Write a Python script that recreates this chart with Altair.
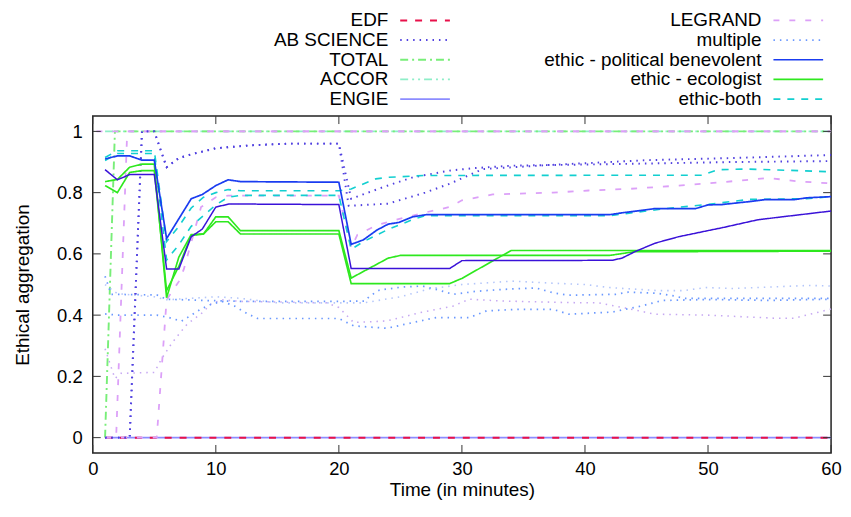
import altair as alt
import pandas as pd

FONT = "Liberation Sans"

# ---------------- data ----------------
x_ticks = [0, 10, 20, 30, 40, 50, 60]
y_ticks = [0, 0.2, 0.4, 0.6, 0.8, 1]

legend_names = ["EDF", "AB SCIENCE", "TOTAL", "ACCOR", "ENGIE",
                "LEGRAND", "multiple", "ethic - political benevolent",
                "ethic - ecologist", "ethic-both"]

# EDF
t_edf = [1, 60]
v_edf = [0, 0]
# ENGIE
t_engie = [1, 60]
v_engie = [0, 0]
# TOTAL
t_total = [1, 1.8, 60]
v_total = [0, 1, 1]
# ACCOR
t_accor = [1, 60]
v_accor = [1, 1]
# AB SCIENCE (two runs)
t_ab_a = [1, 3, 4, 5, 6, 7, 8, 10, 13, 16, 20, 21, 23.6, 26, 29, 31, 34, 37, 45, 52, 60]
v_ab_a = [0, 0, 1, 1, 0.883, 0.913, 0.925, 0.945, 0.955, 0.96, 0.96, 0.78, 0.818, 0.85,
          0.872, 0.88, 0.888, 0.89, 0.906, 0.913, 0.923]
t_ab_b = [1, 3, 4, 5, 6, 7, 8, 10, 13, 16, 20, 20.8, 24, 27, 29, 31.7, 37, 45, 52, 60]
v_ab_b = [0, 0, 1, 1, 0.883, 0.913, 0.925, 0.945, 0.955, 0.96, 0.96, 0.757, 0.764, 0.80,
          0.829, 0.877, 0.89, 0.895, 0.90, 0.903]
# LEGRAND (three runs)
t_leg_a = [0.3, 60]
v_leg_a = [1, 1]
t_leg_b = [1, 1.9, 2.8, 60]
v_leg_b = [0, 0, 1, 1]
t_leg_c = [1, 5.2, 6.0, 7.0, 7.4, 8.8, 10, 11, 20, 21, 21.5, 23.1, 25, 27, 29, 30, 32.5,
           37.4, 40.3, 43.5, 47.6, 51.1, 54.9, 57.3, 60]
v_leg_c = [0, 0, 0.45, 0.51, 0.55, 0.753, 0.785, 0.79, 0.79, 0.62, 0.662, 0.694, 0.715,
           0.735, 0.753, 0.775, 0.794, 0.80, 0.807, 0.812, 0.823, 0.834, 0.848, 0.837, 0.83]
# multiple (four runs)
t_m1 = [1, 1.5, 5.2, 6, 9, 12, 16, 20, 22.1, 22.5, 23.3, 25.2, 26.8, 27.9, 29.3, 31.2, 33.3,
        36, 37.4, 38.7, 42.5, 43.5, 46, 47.3, 48.1, 60]
v_m1 = [0.527, 0.468, 0.466, 0.452, 0.448, 0.445, 0.445, 0.445, 0.446, 0.462, 0.482, 0.492,
        0.495, 0.484, 0.468, 0.478, 0.484, 0.489, 0.473, 0.465, 0.468, 0.475, 0.471, 0.462,
        0.455, 0.455]
t_m2 = [1, 2, 5.2, 6.2, 7.2, 8, 8.8, 9.6, 10.5, 11.5, 12.6, 13.4, 20, 21.2, 23.9, 26.6, 27.9,
        30.6, 32, 34.6, 37.4, 38.7, 42.2, 44.6, 46.3, 50, 55, 60]
v_m2 = [0.404, 0.40, 0.40, 0.392, 0.38, 0.40, 0.42, 0.435, 0.445, 0.43, 0.404, 0.389, 0.389,
        0.365, 0.357, 0.381, 0.392, 0.392, 0.414, 0.419, 0.419, 0.403, 0.41, 0.43, 0.448,
        0.451, 0.448, 0.452]
t_m3 = [1, 2, 5, 6, 8, 10, 12, 15, 20, 22, 25, 27.4, 30, 34.1, 37, 40, 42, 46, 48, 49.8, 52,
        58.2, 60]
v_m3 = [0.50, 0.47, 0.46, 0.45, 0.455, 0.46, 0.455, 0.44, 0.44, 0.44, 0.46, 0.486, 0.50,
        0.511, 0.505, 0.50, 0.49, 0.48, 0.48, 0.49, 0.487, 0.497, 0.495]
t_m4 = [1, 1.8, 2.3, 5, 5.6, 6.4, 7.1, 7.7, 8.8, 9.6, 10.5, 12, 19, 20, 21.2, 23.9, 26.6,
        29.3, 30.6, 33.3, 38.7, 41.1, 43.3, 45.7, 50, 55.4, 57, 58.3, 60]
v_m4 = [0.29, 0.193, 0.21, 0.213, 0.258, 0.307, 0.343, 0.372, 0.404, 0.436, 0.45, 0.445,
        0.44, 0.425, 0.376, 0.381, 0.408, 0.43, 0.452, 0.446, 0.441, 0.44, 0.423, 0.403,
        0.40, 0.39, 0.39, 0.403, 0.42]
# ethic - political benevolent (two runs)
t_pol_a = [1, 2, 3, 4, 5, 6, 8, 8.9, 10, 11, 12, 20, 21, 22, 23.1, 24, 24.9, 26, 27.1, 42,
           43, 44.6, 45.7, 49, 50, 51.1, 53.2, 54.6, 57, 58, 60]
v_pol_a = [0.91, 0.92, 0.92, 0.906, 0.906, 0.65, 0.78, 0.794, 0.823, 0.842, 0.836, 0.834,
           0.631, 0.646, 0.678, 0.697, 0.703, 0.721, 0.728, 0.728, 0.734, 0.742, 0.748, 0.748,
           0.76, 0.761, 0.77, 0.777, 0.777, 0.783, 0.787]
t_pol_b = [1, 2, 3, 5, 6, 7, 8, 8.9, 10, 11.1, 20, 21, 29, 30, 42.2, 43, 44.1, 45.7, 47.6, 50,
           51.1, 54, 56, 57.3, 60]
v_pol_b = [0.875, 0.842, 0.859, 0.859, 0.551, 0.551, 0.656, 0.681, 0.753, 0.763, 0.761, 0.552,
           0.552, 0.578, 0.579, 0.586, 0.608, 0.635, 0.656, 0.676, 0.685, 0.711, 0.721, 0.727,
           0.74]
# ethic - ecologist (two runs)
t_eco_a = [1, 2, 3, 4, 5, 6, 7, 8, 9, 10, 11, 12, 20, 21, 24, 25, 42, 44, 60]
v_eco_a = [0.836, 0.843, 0.883, 0.893, 0.893, 0.457, 0.59, 0.663, 0.665, 0.721, 0.721, 0.676,
           0.676, 0.521, 0.586, 0.595, 0.595, 0.607, 0.609]
t_eco_b = [1, 2, 3, 4, 5, 6, 7, 8, 9, 10, 11, 12, 20, 21, 29, 30, 34, 60]
v_eco_b = [0.823, 0.80, 0.866, 0.872, 0.872, 0.48, 0.56, 0.66, 0.665, 0.705, 0.705, 0.665,
           0.665, 0.503, 0.503, 0.52, 0.611, 0.611]
# ethic-both (two runs)
t_both_a = [1, 2, 5, 6, 7, 8, 9, 10, 11, 12, 20, 21, 23, 24, 27, 49.5, 50.8, 53.2, 55.7, 60]
v_both_a = [0.915, 0.937, 0.937, 0.64, 0.69, 0.75, 0.785, 0.80, 0.81, 0.806, 0.806, 0.812,
            0.845, 0.85, 0.856, 0.857, 0.875, 0.877, 0.874, 0.868]
t_both_b = [1, 2, 5, 6, 7, 8, 9, 10, 11, 12, 20, 21, 22, 24, 26, 27, 42, 43, 47, 49.6, 53.4,
            58, 60]
v_both_b = [0.905, 0.928, 0.928, 0.58, 0.63, 0.69, 0.725, 0.76, 0.785, 0.791, 0.791, 0.615,
            0.64, 0.68, 0.712, 0.725, 0.725, 0.73, 0.75, 0.76, 0.778, 0.78, 0.787]

# (style key, run id, times, values) in drawing order
runs = [
    ("ENGIE", "engie", t_engie, v_engie),
    ("EDF", "edf", t_edf, v_edf),
    ("ACCOR", "accor", t_accor, v_accor),
    ("TOTAL", "total", t_total, v_total),
    ("LEGRAND", "leg_a", t_leg_a, v_leg_a),
    ("LEGRAND", "leg_b", t_leg_b, v_leg_b),
    ("LEGRAND", "leg_c", t_leg_c, v_leg_c),
    ("multiple ·3", "m4", t_m4, v_m4),
    ("multiple ·2", "m3", t_m3, v_m3),
    ("multiple", "m1", t_m1, v_m1),
    ("multiple", "m2", t_m2, v_m2),
    ("AB SCIENCE", "ab_a", t_ab_a, v_ab_a),
    ("AB SCIENCE", "ab_b", t_ab_b, v_ab_b),
    ("ethic-both", "both_a", t_both_a, v_both_a),
    ("ethic-both", "both_b", t_both_b, v_both_b),
    ("ethic - ecologist", "eco_a", t_eco_a, v_eco_a),
    ("ethic - ecologist", "eco_b", t_eco_b, v_eco_b),
    ("ethic - political benevolent", "pol_a", t_pol_a, v_pol_a),
    ("ethic - political benevolent ·2", "pol_b", t_pol_b, v_pol_b),
]

# ---------------- styles ----------------
style_keys = legend_names + ["multiple ·2", "multiple ·3", "ethic - political benevolent ·2"]
style_colors = ["#e8104a", "#5040e0", "#78ee78", "#8eeec8", "#8c8cff",
                "#dca0f8", "#6a98ff", "#1a3cf0", "#2ee81e", "#12cfd0",
                "#b4c6fa", "#c6a8f2", "#3a12d8"]
style_dashes = [[7, 8], [1.5, 5], [8, 4, 2, 4], [8, 4, 2, 4, 2, 4], [1, 0],
                [6, 10], [1.5, 5], [1, 0], [1, 0], [7, 7],
                [1.5, 5], [1.5, 5], [1, 0]]
style_widths = [2, 1.5, 1.2, 1.2, 1.2, 1.2, 1.5, 2.5, 2.5, 2.5, 1.5, 1.5, 2.5]
ethic_keys = ["ethic - political benevolent", "ethic - ecologist", "ethic-both",
              "ethic - political benevolent ·2"]
thin_keys = [k for k in style_keys if k not in ethic_keys]

rows = []
for key, rid, ts, vs in runs:
    for i, (t, v) in enumerate(zip(ts, vs)):
        rows.append({"style": key, "line": rid, "idx": i, "time": t, "value": v})
df = pd.DataFrame(rows)

color_enc = alt.Color("style:N", scale=alt.Scale(domain=style_keys, range=style_colors), legend=None)
dash_enc = alt.StrokeDash("style:N", scale=alt.Scale(domain=style_keys, range=style_dashes), legend=None)
width_enc = alt.StrokeWidth("style:N", scale=alt.Scale(domain=style_keys, range=style_widths), legend=None)

# ---------------- main plot ----------------
W, H = 743, 339

xs = alt.Scale(domain=[0, 60], nice=False, zero=False)
ys = alt.Scale(domain=[-0.05, 1.05], nice=False, zero=False)
xaxis = alt.Axis(values=x_ticks, title="Time (in minutes)", grid=False, ticks=False,
                 domain=False, labelFlush=False, labelFontSize=18.5, titleFontSize=19,
                 labelPadding=7, titlePadding=2, labelFont=FONT, titleFont=FONT,
                 titleFontWeight="normal", labelColor="black", titleColor="black")
yaxis = alt.Axis(values=y_ticks, format="~g", title="Ethical aggregation", grid=False,
                 ticks=False, domain=False, labelFontSize=18.5, titleFontSize=19,
                 labelPadding=10.7, titlePadding=24.5, labelFont=FONT, titleFont=FONT,
                 titleFontWeight="normal", labelColor="black", titleColor="black")

base = alt.Chart(df).mark_line().encode(
    x=alt.X("time:Q", scale=xs, axis=xaxis),
    y=alt.Y("value:Q", scale=ys, axis=yaxis),
    color=color_enc, strokeDash=dash_enc, strokeWidth=width_enc,
    detail="line:N", order="idx:Q",
)
thin = base.transform_filter(alt.FieldOneOfPredicate(field="style", oneOf=thin_keys))
thick = base.transform_filter(alt.FieldOneOfPredicate(field="style", oneOf=ethic_keys))

xt = pd.DataFrame({"time": x_ticks})
yt = pd.DataFrame({"value": y_ticks})
tick_style = dict(color="#333333", strokeWidth=1)
tick_top = alt.Chart(xt).mark_rule(**tick_style).encode(
    x=alt.X("time:Q", scale=xs, axis=xaxis), y=alt.value(0), y2=alt.value(8))
tick_bot = alt.Chart(xt).mark_rule(**tick_style).encode(
    x=alt.X("time:Q", scale=xs, axis=xaxis), y=alt.value(H), y2=alt.value(H - 8))
tick_left = alt.Chart(yt).mark_rule(**tick_style).encode(
    y=alt.Y("value:Q", scale=ys, axis=yaxis), x=alt.value(0), x2=alt.value(8))
tick_right = alt.Chart(yt).mark_rule(**tick_style).encode(
    y=alt.Y("value:Q", scale=ys, axis=yaxis), x=alt.value(W), x2=alt.value(W - 8))

main = alt.layer(thin, thick, tick_top, tick_bot, tick_left, tick_right).properties(
    width=W, height=H,
    view=alt.ViewBackground(stroke="#222222", strokeWidth=1.5),
)

# ---------------- key (gnuplot style: label, then sample) ----------------
key_rows = []
for i, name in enumerate(legend_names):
    for s in (0, 1):
        key_rows.append({"style": name, "col": i // 5, "row": i % 5, "s": s})
key_df = pd.DataFrame(key_rows)

KEY_H = 99
SAMPLE_PX = 50
key_widths = [359.4, 370]


def key_column(c):
    w = key_widths[c]
    sx = alt.Scale(domain=[1 - w / SAMPLE_PX, 1], nice=False, zero=False)
    sy = alt.Scale(domain=[0, 1, 2, 3, 4])
    src = alt.Chart(key_df).transform_filter(alt.datum.col == c)
    sample = src.mark_line().encode(
        x=alt.X("s:Q", scale=sx, axis=None),
        y=alt.Y("row:O", scale=sy, axis=None),
        color=color_enc, strokeDash=dash_enc, strokeWidth=width_enc,
        detail="style:N",
    )
    label = src.transform_filter(alt.datum.s == 0).mark_text(
        align="right", baseline="middle", dx=-12, font=FONT, fontSize=19, color="black"
    ).encode(
        x=alt.X("s:Q", scale=sx, axis=None),
        y=alt.Y("row:O", scale=sy, axis=None),
        text="style:N",
    )
    return alt.layer(sample, label).properties(width=w, height=KEY_H)


key = alt.hconcat(key_column(0), key_column(1), spacing=0).resolve_scale(
    x="independent", y="independent")

chart = alt.vconcat(key, main, spacing=4.2).resolve_scale(
    x="independent", y="independent"
).properties(
    background="white",
    padding={"left": 4.3, "top": 0, "right": 0, "bottom": 0},
).configure_view(stroke="transparent")

chart.save("out.html", embed_options={"renderer": "svg", "actions": False})
